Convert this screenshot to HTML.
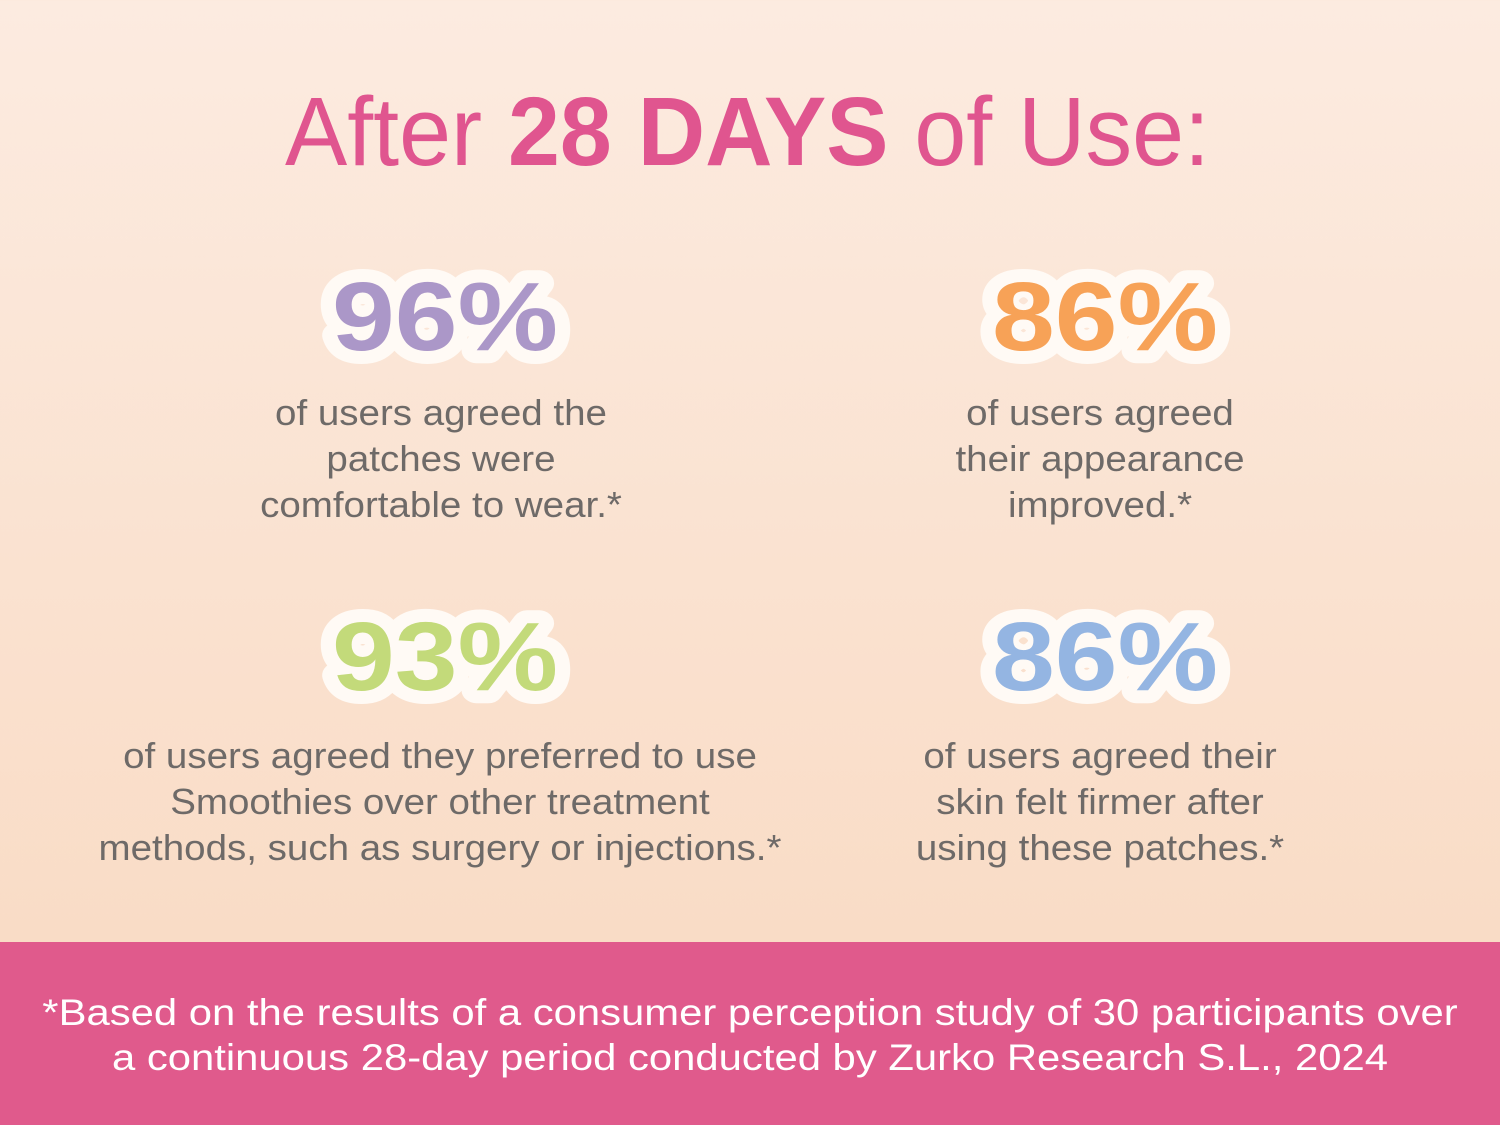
<!DOCTYPE html>
<html><head><meta charset="utf-8"><style>
html,body{margin:0;padding:0}
body{width:1500px;height:1125px;position:relative;overflow:hidden;background:linear-gradient(#fcebe0,#f9dcc6 940px);font-family:"Liberation Sans",sans-serif}
.t{position:absolute;color:#6e6a68;font-size:36px;line-height:46px;text-align:center;white-space:nowrap;transform:translateX(-50%) scaleX(1.07)}
.foot{position:absolute;left:0;top:942px;width:1500px;height:183px;background:#e05a8c}
.ft{position:absolute;color:#fff;font-size:37px;white-space:nowrap;line-height:45px;text-align:center;width:1500px;left:0;top:990px;transform:scaleX(1.13)}
svg{position:absolute;left:0;top:0}
</style></head><body>
<svg width="1500" height="942">
<text x="285" y="165" textLength="925" lengthAdjust="spacingAndGlyphs" font-family="Liberation Sans" font-size="97" fill="#e0558f">After <tspan font-weight="bold">28 DAYS</tspan> of Use:</text>
<g font-family="Liberation Sans" font-weight="bold" font-size="97" stroke="#fffaf5" stroke-width="26" stroke-linejoin="round" paint-order="stroke">
<text x="332" y="350" textLength="226" lengthAdjust="spacingAndGlyphs" fill="#ab97c8">96%</text>
<text x="992" y="350" textLength="226" lengthAdjust="spacingAndGlyphs" fill="#f7a257">86%</text>
<text x="332" y="690" textLength="226" lengthAdjust="spacingAndGlyphs" fill="#c3da7a">93%</text>
<text x="992" y="690" textLength="226" lengthAdjust="spacingAndGlyphs" fill="#94b5e2">86%</text>
</g>
</svg>
<div class="t" style="left:441px;top:390px">of users agreed the<br>patches were<br>comfortable to wear.*</div>
<div class="t" style="left:1100px;top:390px">of users agreed<br>their appearance<br>improved.*</div>
<div class="t" style="left:440px;top:733px">of users agreed they preferred to use<br>Smoothies over other treatment<br>methods, such as surgery or injections.*</div>
<div class="t" style="left:1100px;top:733px">of users agreed their<br>skin felt firmer after<br>using these patches.*</div>
<div class="foot"></div>
<div class="ft">*Based on the results of a consumer perception study of 30 participants over<br>a continuous 28-day period conducted by Zurko Research S.L., 2024</div>
</body></html>
